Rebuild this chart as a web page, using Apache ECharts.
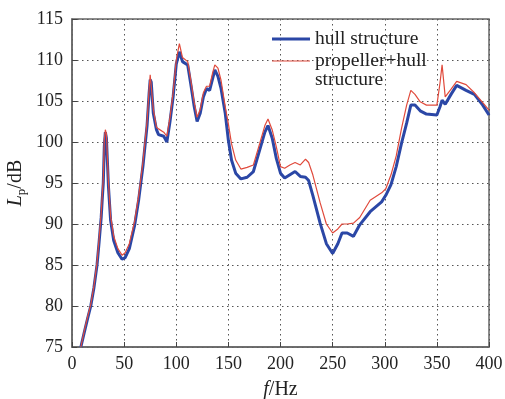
<!DOCTYPE html>
<html>
<head>
<meta charset="utf-8">
<script src="https://cdn.jsdelivr.net/npm/echarts@6/dist/echarts.min.js"></script>
<style>
  html, body { margin: 0; padding: 0; background: #fff; }
  #chart { width: 505px; height: 399px; }
</style>
</head>
<body>
<div id="chart"></div>
<script>
// frequency, Hz
var freq = [8.5, 12, 15, 18, 21, 24, 26, 28, 29, 30, 31, 32, 33, 34, 35, 37, 40, 44, 48, 51, 55, 60, 64, 68, 72, 74, 75, 76, 78, 81, 83, 88, 91, 94, 97, 100, 103, 106, 111, 114, 117, 120, 123, 126, 129, 132, 135, 137, 140, 143, 147, 150, 153, 157, 162, 168, 174, 180, 185, 188, 192, 196, 200, 204, 209, 214, 219, 224, 227, 231, 238, 244, 250, 255, 259, 264, 270, 276, 286, 297, 301, 306, 311, 316, 321, 325, 329, 334, 340, 350, 353, 355, 358, 364, 369, 378, 386, 394, 400];
// hull structure, dB
var hull = [75.0, 76.9, 78.5, 80.0, 82.2, 85.0, 87.8, 90.8, 93.0, 95.0, 99.5, 101.2, 100.5, 97.5, 94.5, 90.5, 88.0, 86.5, 85.7, 85.9, 87.0, 89.8, 93.0, 97.0, 102.0, 106.0, 107.6, 107.3, 103.5, 101.5, 100.9, 100.7, 100.0, 102.5, 105.5, 109.5, 111.0, 109.8, 109.4, 107.0, 104.5, 102.5, 103.5, 105.5, 106.5, 106.3, 107.8, 108.8, 108.0, 106.5, 103.5, 100.2, 97.8, 96.2, 95.5, 95.7, 96.4, 99.0, 101.2, 102.0, 100.5, 98.0, 96.2, 95.6, 96.0, 96.4, 95.8, 95.7, 95.3, 93.5, 90.1, 87.6, 86.4, 87.6, 88.9, 88.9, 88.5, 89.9, 91.5, 92.7, 93.5, 94.8, 97.0, 99.8, 102.3, 104.5, 104.5, 103.8, 103.4, 103.3, 104.3, 105.1, 104.6, 105.9, 106.9, 106.3, 105.8, 104.5, 103.3];
// propeller + hull structure, dB
var propHull = [75.0, 77.1, 78.7, 80.2, 82.4, 85.3, 88.2, 91.3, 93.5, 95.5, 100.3, 101.5, 101.0, 98.0, 95.0, 91.0, 88.5, 87.0, 86.2, 86.5, 87.6, 90.3, 93.5, 97.5, 102.5, 106.5, 108.2, 108.0, 104.0, 101.8, 101.6, 101.2, 100.7, 103.0, 106.0, 110.0, 112.0, 110.3, 109.8, 107.5, 105.0, 103.0, 104.0, 106.0, 106.8, 106.8, 108.5, 109.4, 109.0, 107.5, 104.3, 102.2, 99.8, 97.8, 96.7, 96.9, 97.2, 99.8, 102.0, 102.8, 101.5, 99.4, 97.0, 96.8, 97.2, 97.5, 97.2, 97.9, 97.5, 96.0, 92.6, 90.0, 88.9, 89.4, 90.0, 90.0, 90.1, 90.8, 92.9, 93.8, 94.3, 96.0, 98.3, 101.6, 104.5, 106.3, 105.8, 104.9, 104.5, 104.5, 107.2, 109.4, 105.5, 106.5, 107.4, 107.0, 106.0, 104.8, 103.9];

var serif = '"Liberation Serif", "DejaVu Serif", serif';
var gridLine = { show: true, lineStyle: { color: '#555', type: [1.5, 3.5], width: 1 } };

var myChart = echarts.init(document.getElementById('chart'));
var option = {
    animation: false,
    backgroundColor: '#fff',
    grid: {
        left: 72, right: 16, top: 19, bottom: 52,
        outerBoundsMode: 'none', containLabel: false,
        show: true, borderColor: '#666', borderWidth: 1.5, backgroundColor: 'transparent'
    },
    legend: [{
        data: ['hull structure'],
        left: 272, top: 29, padding: 0,
        icon: 'rect', itemWidth: 38, itemHeight: 3,
        textStyle: { fontFamily: serif, fontSize: 19.5, color: '#222', lineHeight: 20 }
    }, {
        data: ['propeller+hull structure'],
        left: 272, top: 50.5, padding: 0,
        icon: 'rect', itemWidth: 38, itemHeight: 1.2,
        formatter: function () { return '{a|propeller+hull}\n{b|structure}'; },
        textStyle: {
            fontFamily: serif, fontSize: 19.5, color: '#222',
            rich: {
                a: { fontFamily: serif, fontSize: 19.5, color: '#222', lineHeight: 18 },
                b: { fontFamily: serif, fontSize: 19.5, color: '#222', lineHeight: 1, verticalAlign: 'top' }
            }
        }
    }],
    xAxis: {
        type: 'value', min: 0, max: 400, interval: 50,
        name: '{i|f}/Hz', nameLocation: 'middle', nameGap: 33,
        nameTextStyle: {
            fontFamily: serif, fontSize: 20, color: '#222',
            rich: { i: { fontFamily: serif, fontSize: 20, fontStyle: 'italic', color: '#222' } }
        },
        axisLine: { show: true, lineStyle: { color: '#666', width: 1.5 } },
        axisTick: { show: true, inside: true, length: 5, lineStyle: { color: '#444' } },
        axisLabel: { fontFamily: serif, fontSize: 18, color: '#222', margin: 8 },
        splitLine: gridLine
    },
    yAxis: {
        type: 'value', min: 75, max: 115, interval: 5,
        name: '{i|L}{s|p}{n|/dB}', nameLocation: 'middle', nameGap: 44,
        nameMoveOverlap: false,
        nameTextStyle: {
            fontFamily: serif, fontSize: 20, color: '#222',
            rich: {
                i: { fontFamily: serif, fontSize: 20, fontStyle: 'italic', color: '#222', lineHeight: 24, verticalAlign: 'middle' },
                s: { fontFamily: serif, fontSize: 13, color: '#222', lineHeight: 13, verticalAlign: 'bottom' },
                n: { fontFamily: serif, fontSize: 20, color: '#222', lineHeight: 24, verticalAlign: 'middle' }
            }
        },
        axisLine: { show: true, lineStyle: { color: '#666', width: 1.5 } },
        axisTick: { show: true, inside: true, length: 5, lineStyle: { color: '#444' } },
        axisLabel: { fontFamily: serif, fontSize: 18, color: '#222', margin: 9 },
        splitLine: gridLine
    },
    series: [{
        name: 'hull structure',
        type: 'line',
        symbol: 'none',
        data: freq.map(function (f, i) { return [f, hull[i]]; }),
        lineStyle: { color: '#2B47A6', width: 3 },
        itemStyle: { color: '#2B47A6' },
        z: 2
    }, {
        name: 'propeller+hull structure',
        type: 'line',
        symbol: 'none',
        data: freq.map(function (f, i) { return [f, propHull[i]]; }),
        lineStyle: { color: '#E04A3C', width: 1.2 },
        itemStyle: { color: '#E04A3C' },
        z: 3
    }]
};
myChart.setOption(option);
</script>
</body>
</html>
